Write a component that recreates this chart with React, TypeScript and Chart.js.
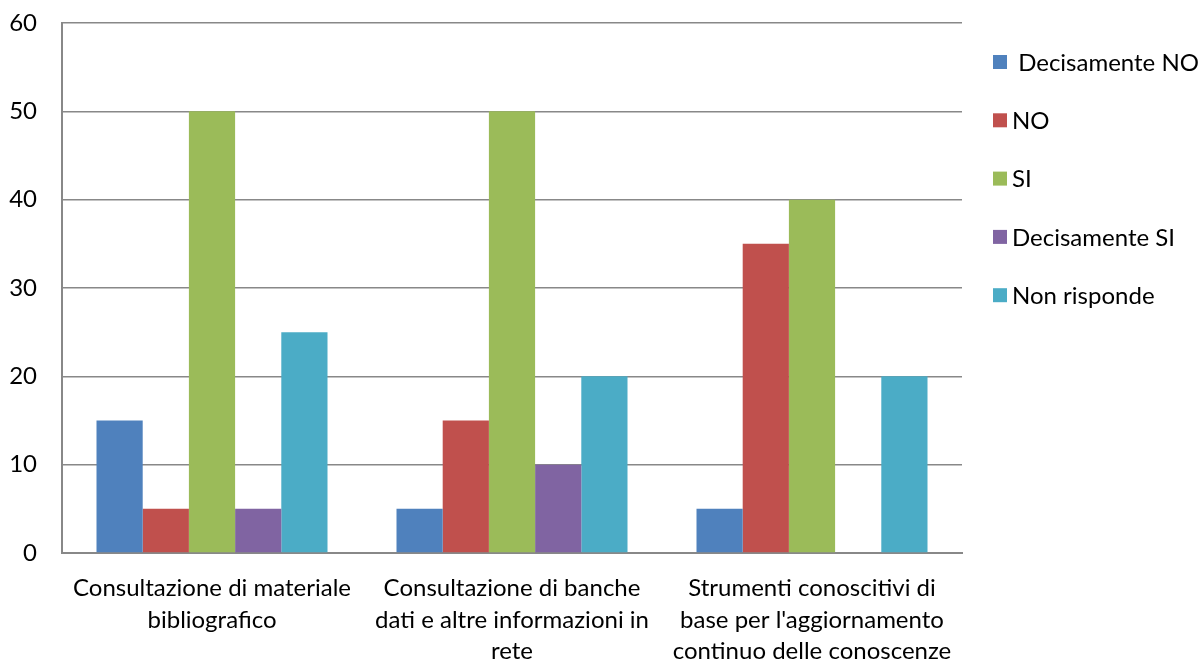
import React, { useEffect, useRef } from "react";
import { Chart, registerables } from "chart.js";

Chart.register(...registerables);

const categories: string[][] = [
  ["Consultazione di materiale", "bibliografico"],
  ["Consultazione di banche", "dati e altre informazioni in", "rete"],
  ["Strumenti conoscitivi di", "base per l'aggiornamento", "continuo delle conoscenze"],
];
const seriesNames = [" Decisamente NO", "NO", "SI", "Decisamente SI", "Non risponde"];
const decisamenteNo = [15, 5, 5];
const no = [5, 15, 35];
const si = [50, 50, 40];
const decisamenteSi = [5, 10, 0];
const nonRisponde = [25, 20, 20];
const colors = ["#4F81BD", "#C0504D", "#9BBB59", "#8064A2", "#4BACC6"];
const yTicks = [0, 10, 20, 30, 40, 50, 60];

const FONT = "Lato, 'Open Sans', sans-serif";

const legendPlugin = {
  id: "customLegend",
  afterDraw(chart: any) {
    const ctx = chart.ctx;
    ctx.save();
    ctx.font = `24px ${FONT}`;
    ctx.textBaseline = "middle";
    ctx.textAlign = "left";
    const x0 = 993;
    const y0 = 62;
    const step = 58.3;
    chart.data.datasets.forEach((ds: any, i: number) => {
      const y = y0 + i * step;
      ctx.fillStyle = ds.backgroundColor;
      ctx.fillRect(x0, y - 7, 14, 14);
      ctx.fillStyle = "#000";
      ctx.fillText(ds.label, x0 + 19, y + 1);
    });
    ctx.restore();
  },
};

export default function App() {
  const ref = useRef<HTMLCanvasElement>(null);
  useEffect(() => {
    if (!ref.current) return;
    const values = [decisamenteNo, no, si, decisamenteSi, nonRisponde];
    const chart = new Chart(ref.current, {
      type: "bar",
      data: {
        labels: categories,
        datasets: seriesNames.map((name, i) => ({
          label: name,
          data: values[i],
          backgroundColor: colors[i],
          borderWidth: 0,
          barPercentage: 1,
          categoryPercentage: 0.77,
        })),
      },
      options: {
        animation: false,
        responsive: true,
        maintainAspectRatio: false,
        layout: { padding: { left: 0, right: 241, top: 23, bottom: 0 } },
        plugins: {
          legend: { display: false },
          tooltip: { enabled: false },
        },
        scales: {
          x: {
            grid: { display: false, drawTicks: false },
            border: { color: "#888888", width: 2 },
            afterFit: (axis: any) => {
              axis.height = 110;
              axis.paddingLeft = 0;
              axis.paddingRight = 0;
              axis.paddingTop = 0;
              axis.paddingBottom = 0;
            },
            ticks: {
              color: "#000",
              padding: 20,
              font: { family: FONT, size: 24, lineHeight: 1.3 },
              maxRotation: 0,
              autoSkip: false,
            },
          },
          y: {
            min: 0,
            max: 60,
            afterFit: (axis: any) => {
              axis.width = 62;
              axis.paddingTop = 0;
              axis.paddingBottom = 0;
            },
            afterBuildTicks: (axis: any) => {
              axis.ticks = yTicks.map((v) => ({ value: v }));
            },
            grid: { color: "#888888", lineWidth: 1.5, drawTicks: false },
            border: { color: "#888888", width: 2 },
            ticks: {
              color: "#000",
              padding: 25,
              font: { family: FONT, size: 24 },
            },
          },
        },
      },
      plugins: [legendPlugin],
    });
    return () => chart.destroy();
  }, []);
  return (
    <div style={{ position: "fixed", left: 0, top: 0, width: 1203, height: 663, background: "#fff" }}>
      <canvas ref={ref} />
    </div>
  );
}
